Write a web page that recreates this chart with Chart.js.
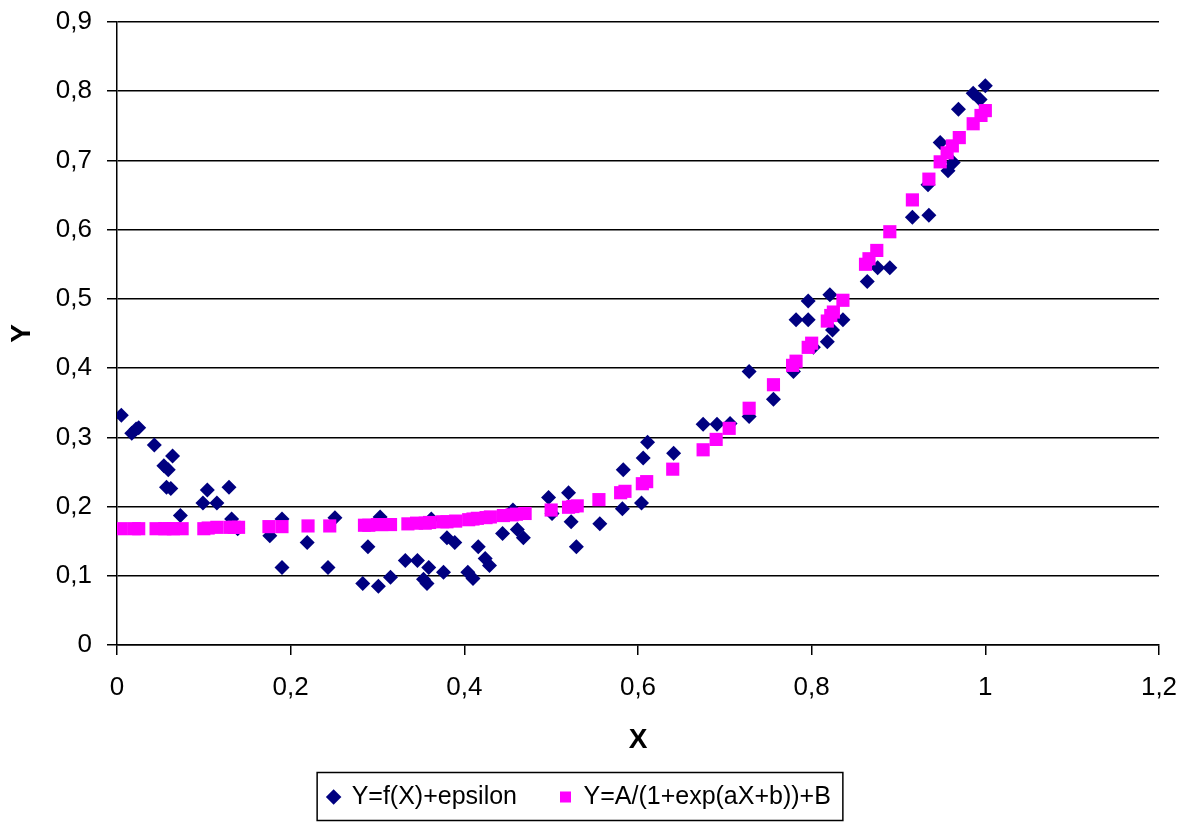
<!DOCTYPE html>
<html>
<head>
<meta charset="utf-8">
<script src="https://cdn.jsdelivr.net/npm/chart.js@4.4.1/dist/chart.umd.min.js"></script>
<style>
  html, body { margin: 0; padding: 0; background: #fff; }
  #wrap { width: 1186px; height: 823px; }
</style>
</head>
<body>
<div id="wrap"><canvas id="chart" width="1186" height="823"></canvas></div>
<script>
// observed points
const obsX = [0.005, 0.017, 0.022, 0.025, 0.043, 0.054, 0.059, 0.064, 0.057, 0.062,
  0.073, 0.099, 0.104, 0.115, 0.129, 0.132, 0.139, 0.176, 0.19, 0.19,
  0.219, 0.243, 0.251, 0.283, 0.289, 0.301, 0.303, 0.315, 0.332, 0.346,
  0.353, 0.357, 0.359, 0.362, 0.376, 0.38, 0.389, 0.404, 0.41, 0.416,
  0.424, 0.429, 0.444, 0.456, 0.461, 0.468, 0.497, 0.501, 0.52, 0.523,
  0.529, 0.556, 0.582, 0.583, 0.604, 0.606, 0.611, 0.641, 0.675, 0.691,
  0.706, 0.728, 0.728, 0.756, 0.779, 0.782, 0.796, 0.796, 0.802, 0.818,
  0.824, 0.821, 0.836, 0.864, 0.876, 0.89, 0.916, 0.935, 0.934, 0.948,
  0.957, 0.963, 0.969, 0.986, 1.0, 0.994];
const obsY = [0.332, 0.306, 0.312, 0.314, 0.289, 0.259, 0.253, 0.273, 0.228, 0.226,
  0.187, 0.205, 0.224, 0.205, 0.228, 0.182, 0.168, 0.158, 0.182, 0.112,
  0.148, 0.112, 0.184, 0.089, 0.142, 0.085, 0.185, 0.098, 0.122, 0.122,
  0.095, 0.089, 0.112, 0.182, 0.105, 0.155, 0.148, 0.105, 0.096, 0.142,
  0.125, 0.115, 0.161, 0.195, 0.167, 0.155, 0.213, 0.19, 0.22, 0.178,
  0.142, 0.175, 0.197, 0.253, 0.205, 0.27, 0.293, 0.277, 0.319, 0.319,
  0.32, 0.33, 0.395, 0.355, 0.395, 0.47, 0.47, 0.497, 0.43, 0.438,
  0.455, 0.506, 0.47, 0.525, 0.545, 0.545, 0.618, 0.621, 0.665, 0.726,
  0.685, 0.697, 0.774, 0.797, 0.808, 0.788];

// fitted curve points
const fitX = [0.005, 0.02, 0.025, 0.045, 0.055, 0.06, 0.065, 0.075, 0.1, 0.105,
  0.115, 0.13, 0.135, 0.14, 0.175, 0.19, 0.22, 0.245, 0.285, 0.29,
  0.3, 0.305, 0.315, 0.335, 0.345, 0.355, 0.36, 0.375, 0.38, 0.39,
  0.405, 0.41, 0.415, 0.425, 0.43, 0.445, 0.455, 0.46, 0.47, 0.5,
  0.52, 0.525, 0.53, 0.555, 0.58, 0.585, 0.605, 0.61, 0.64, 0.675,
  0.69, 0.705, 0.728, 0.756, 0.778, 0.782, 0.796, 0.8, 0.818, 0.822,
  0.825, 0.836, 0.862, 0.866, 0.875, 0.89, 0.916, 0.935, 0.948, 0.956,
  0.962, 0.97, 0.986, 0.995, 1.0];
const fitY = [0.168, 0.168, 0.168, 0.168, 0.168, 0.168, 0.168, 0.168, 0.168, 0.169,
  0.17, 0.17, 0.17, 0.17, 0.171, 0.171, 0.172, 0.172, 0.173, 0.173,
  0.174, 0.174, 0.174, 0.175, 0.176, 0.176, 0.177, 0.178, 0.178, 0.179,
  0.181, 0.182, 0.183, 0.184, 0.185, 0.187, 0.188, 0.189, 0.19, 0.195,
  0.199, 0.2, 0.201, 0.21, 0.22, 0.222, 0.233, 0.236, 0.254, 0.282,
  0.297, 0.313, 0.342, 0.376, 0.404, 0.41, 0.43, 0.436, 0.468, 0.476,
  0.481, 0.498, 0.55, 0.558, 0.57, 0.597, 0.643, 0.673, 0.698, 0.711,
  0.721, 0.733, 0.753, 0.765, 0.772];

const xTickLabels = ['0', '0,2', '0,4', '0,6', '0,8', '1', '1,2'];
const yTickLabels = ['0', '0,1', '0,2', '0,3', '0,4', '0,5', '0,6', '0,7', '0,8', '0,9'];

Chart.defaults.font.family = '"Liberation Sans", Arial, sans-serif';
Chart.defaults.color = '#000';

// frame round the legend row
const legendFrame = {
  id: 'legendFrame',
  afterDraw(chart) {
    const boxes = chart.legend.legendHitBoxes;
    if (!boxes || !boxes.length) return;
    let l = Infinity, r = -Infinity, t = Infinity, b = -Infinity;
    boxes.forEach(h => {
      l = Math.min(l, h.left); r = Math.max(r, h.left + h.width);
      t = Math.min(t, h.top); b = Math.max(b, h.top + h.height);
    });
    const ctx = chart.ctx;
    ctx.save();
    ctx.strokeStyle = '#000';
    ctx.lineWidth = 1.5;
    ctx.strokeRect(l - 11, t - 12, (r - l) + 23, (b - t) + 23);
    ctx.restore();
  }
};

new Chart(document.getElementById('chart'), {
  type: 'scatter',
  data: {
    datasets: [
      {
        label: 'Y=f(X)+epsilon',
        data: obsX.map((x, i) => ({ x, y: obsY[i] })),
        pointStyle: 'rectRot',
        pointRadius: 7.5,
        pointHoverRadius: 7.5,
        backgroundColor: '#000080',
        borderColor: '#000080',
        borderWidth: 0,
        order: 1
      },
      {
        label: 'Y=A/(1+exp(aX+b))+B',
        data: fitX.map((x, i) => ({ x, y: fitY[i] })),
        pointStyle: 'rect',
        pointRadius: 9.3,
        pointHoverRadius: 9.3,
        backgroundColor: '#FF00FF',
        borderColor: '#FF00FF',
        borderWidth: 0,
        order: 0
      }
    ]
  },
  options: {
    responsive: false,
    animation: false,
    layout: { padding: { top: 22, right: 27, bottom: 3.5, left: 0 } },
    plugins: {
      tooltip: { enabled: false },
      legend: {
        position: 'bottom',
        labels: {
          usePointStyle: true,
          boxWidth: 11,
          boxHeight: 11,
          padding: 43,
          font: { size: 25 },
          color: '#000',
          sort: (a, b) => a.datasetIndex - b.datasetIndex
        }
      }
    },
    scales: {
      x: {
        type: 'linear',
        min: 0,
        max: 1.2,
        afterBuildTicks: s => { s.ticks = xTickLabels.map((_, i) => ({ value: i * 0.2 })); },
        ticks: {
          callback: (v, i) => xTickLabels[i],
          font: { size: 26 },
          padding: 17,
          maxRotation: 0
        },
        grid: { drawOnChartArea: false, drawTicks: true, tickLength: 10, color: '#000', lineWidth: 1.5 },
        border: { color: '#000', width: 1.5 },
        title: {
          display: true,
          text: 'X',
          font: { size: 28, weight: 'bold' },
          padding: { top: 0, bottom: -15.3 }
        },
        afterFit: s => { s.height = 96.5; s.paddingLeft = 0; s.paddingRight = 0; }
      },
      y: {
        type: 'linear',
        min: 0,
        max: 0.9,
        afterBuildTicks: s => { s.ticks = yTickLabels.map((_, i) => ({ value: i * 0.1 })); },
        ticks: {
          callback: (v, i) => yTickLabels[i],
          font: { size: 26 },
          padding: 15
        },
        grid: { color: '#000', lineWidth: 1.5, tickLength: 10 },
        border: { color: '#000', width: 1.5 },
        title: {
          display: true,
          text: 'Y',
          font: { size: 28, weight: 'bold' },
          padding: { top: 5.2, bottom: 0 }
        },
        afterFit: s => { s.width = 117; s.paddingTop = 0; s.paddingBottom = 0; }
      }
    }
  },
  plugins: [legendFrame]
});
</script>
</body>
</html>
